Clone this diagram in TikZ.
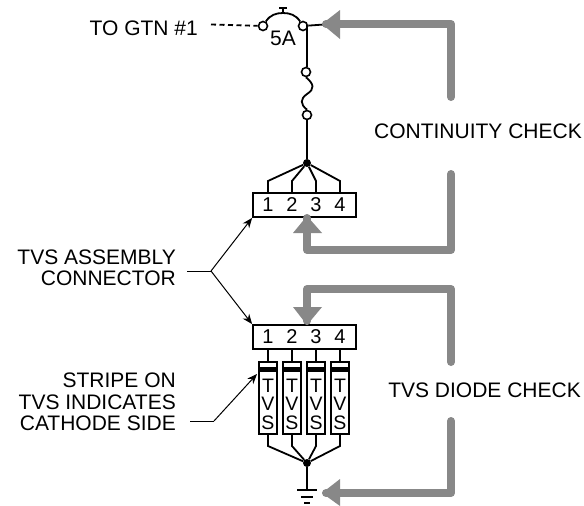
\documentclass[tikz,border=0pt]{standalone}
\usepackage{fontspec}
\setmainfont{Liberation Sans}
\usetikzlibrary{arrows.meta, positioning, calc}
\definecolor{checkgray}{RGB}{136,136,136}
\tikzset{
	wire/.style={line width=1.8pt},
	pin/.style={circle, draw, line width=1.6pt, fill=white, inner sep=0pt, minimum size=9pt},
	hub/.style={circle, fill=black, inner sep=0pt, minimum size=8pt},
	connbox/.style={draw, line width=1.8pt, fill=white, minimum width=103pt, minimum height=24pt, inner sep=0pt},
	tvsbox/.style={draw, line width=1.8pt, fill=white, minimum width=18pt, minimum height=72pt, inner sep=0pt},
	lbl/.style={inner sep=0pt, font=\fontsize{21}{21.5}\selectfont},
	num/.style={inner sep=0pt, font=\fontsize{20}{20}\selectfont},
	tvstxt/.style={inner sep=0pt, align=center, font=\fontsize{19.5}{18.5}\selectfont},
	leader/.style={line width=1pt},
	pointer/.style={leader, -{Stealth[length=10pt, width=8pt]}},
	check/.style={draw=checkgray, line width=8pt, line join=round, line cap=round},
	checktip/.style={fill=checkgray, draw=none}
}
\begin{document}
\begin{tikzpicture}[x=1pt, y=-1pt]
	\useasboundingbox (0,0) rectangle (584,506);

	% breaker and fuse
	\node[pin] (cbl) at (263,26) {};
	\node[pin] (cbr) at (303,26) {};
	\node[pin] (fa) at (306,72) {};
	\node[pin] (fb) at (307,115) {};
	\coordinate (cbtop) at (283,13);
	\coordinate (cbcap) at (283,8);
	\coordinate (tee) at (307,24.5);
	\coordinate (cbout) at (324,24.5);
	\coordinate (faup) at (307,67);
	\node[hub] (hubtop) at (307,163) {};
	\node[hub] (hubbot) at (307,463) {};

	% connectors
	\node[connbox] (conntop) at (304.5,205) {};
	\node[connbox] (connbot) at (304.5,337) {};
	\foreach \i/\x in {1/268,2/292,3/316,4/340} {
		\node[num] (a\i) at (\x,205) {\i};
		\node[num] (b\i) at (\x,337) {\i};
		\coordinate (ptop\i) at (\x,193);
		\coordinate (bendtop\i) at (\x,181);
		\coordinate (pbot\i) at (\x,349);
		\node[tvsbox, anchor=north] (tvs\i) at (\x,361) {};
		\fill ($(tvs\i.north west)+(0,6)$) rectangle ($(tvs\i.north east)+(0,11)$);
		\node[tvstxt] (tt\i) at (\x,404) {T\\V\\S};
		\coordinate (bendbot\i) at (\x,446);
		\draw[wire] (hubtop) -- (bendtop\i) -- (ptop\i);
		\draw[wire] (pbot\i) -- (tvs\i.north);
		\draw[wire] (tvs\i.south) -- (bendbot\i) -- (hubbot);
	}

	% wiring
	\draw[wire] (cbl) .. controls (270,15) and (276,13) .. (cbtop) .. controls (290,13) and (296,15) .. (cbr);
	\draw[wire] (cbtop) -- (cbcap);
	\draw[wire] (279,8) -- (287,8);
	\node[lbl, anchor=east] (gtn) at (198,28) {TO GTN \#1};
	\node[lbl] (amps) at (283,38) {5A};
	\draw[wire, dash pattern=on 5pt off 3.5pt] (211,24.5) -- (cbl);
	\draw[wire] (cbr) -- (cbout);
	\draw[wire] (tee) -- (faup);
	\draw[wire] (fa.south) .. controls (314,84) and (315,89) .. (307,94) .. controls (300,99) and (300,104) .. (fb.north);
	\draw[wire] (fb) -- (hubtop);

	% ground
	\coordinate (gnd) at (307,490);
	\draw[wire] (hubbot) -- (gnd);
	\draw[wire] (297,490) -- (317,490);
	\draw[wire] (301,497) -- (313,497);
	\draw[wire] (304,503) -- (310,503);

	% check paths
	\coordinate (c1a) at (326,24);
	\coordinate (c1b) at (451,24);
	\coordinate (c1c) at (451,97);
	\coordinate (c2a) at (451,174);
	\coordinate (c2b) at (451,250);
	\coordinate (c2c) at (307,250);
	\coordinate (c2d) at (307,218);
	\coordinate (c3a) at (307,321);
	\coordinate (c3b) at (307,289);
	\coordinate (c3c) at (451,289);
	\coordinate (c3d) at (451,362);
	\coordinate (c4a) at (451,421);
	\coordinate (c4b) at (451,493);
	\coordinate (c4c) at (326,493);
	\draw[check] (c1a) -- (c1b) -- (c1c);
	\draw[check] (c2a) -- (c2b) -- (c2c) -- (c2d);
	\draw[check] (c3a) -- (c3b) -- (c3c) -- (c3d);
	\draw[check] (c4a) -- (c4b) -- (c4c);
	\draw[checktip] (322,24) -- (340,10) -- (340,39) -- cycle;
	\draw[checktip] (307,216) -- (293,233) -- (322,233) -- cycle;
	\draw[checktip] (307,325) -- (293,307) -- (322,307) -- cycle;
	\draw[checktip] (322,493) -- (340,479) -- (340,506) -- cycle;
	\node[lbl, anchor=east] (contcheck) at (582,131) {CONTINUITY CHECK};
	\node[lbl, anchor=east] (diodecheck) at (581,390) {TVS DIODE CHECK};

	% left labels
	\node[lbl, anchor=east, align=right] (assy) at (176,268) {TVS ASSEMBLY\\CONNECTOR};
	\node[lbl, anchor=east, align=right] (stripe) at (176,402) {STRIPE ON\\TVS INDICATES\\CATHODE SIDE};
	\coordinate (assyend) at (211,271);
	\coordinate (stripeend) at (214,421);
	\draw[leader] (187,271) -- (assyend);
	\draw[pointer] (assyend) -- (conntop.south west);
	\draw[pointer] (assyend) -- (connbot.north west);
	\draw[leader] (190,421) -- (stripeend);
	\draw[pointer] (stripeend) -- (257,374);
\end{tikzpicture}
\end{document}
